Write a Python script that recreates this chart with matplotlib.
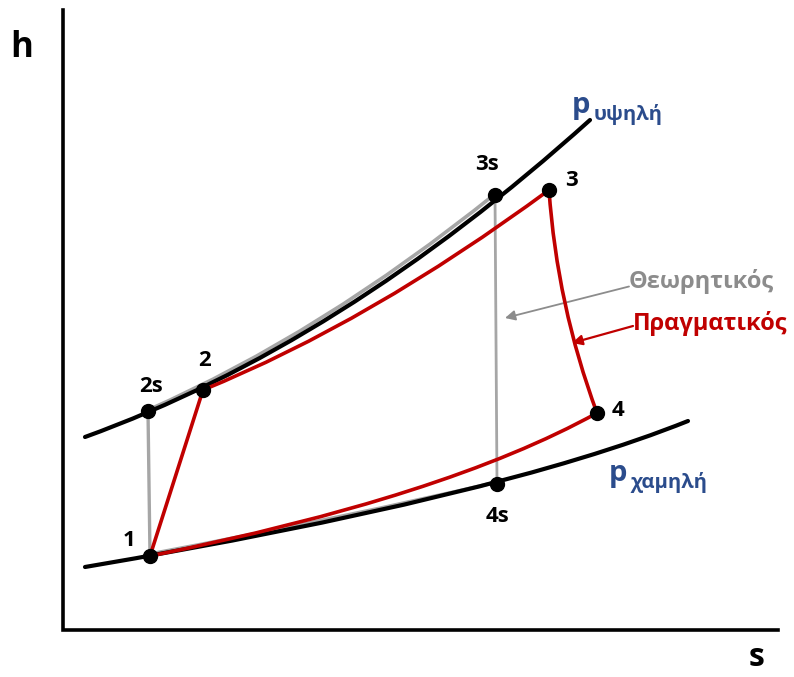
import numpy as np
import matplotlib
matplotlib.use("Agg")
import matplotlib.pyplot as plt
from matplotlib.path import Path
from matplotlib.patches import PathPatch

plt.rcParams['font.family'] = ['Open Sans', 'DejaVu Sans']

# state points (canvas coords, y down)
point_names = ["1", "2s", "2", "3s", "3", "4", "4s"]
point_x = [150, 148, 203, 495, 549, 597, 497]
point_y = [556, 411, 390, 195, 190, 413, 484]
label_x = [129, 151, 205, 487, 571, 618, 497]
label_y = [541, 387, 360, 165, 180, 410, 516]

# isobars as quadratic curves: start, control, end
p_high = [(85, 437), (340, 345), (590, 120)]
p_low = [(85, 567), (499, 497), (688, 421)]

# theoretical cycle paths along isobars
theo_high = [(148, 410), (321, 334), (495, 194)]
theo_low = [(497, 482), (353, 516), (150, 554)]

# real cycle
real_12 = [(150, 556), (180, 462), (203, 390)]
real_23 = [(203, 390), (370, 322), (549, 190)]
real_34 = [(549, 190), (557, 305), (597, 413)]
real_41 = [(597, 413), (445, 497), (150, 556)]

RED = "#C00000"
GRAY = "#A6A6A6"
BLUE = "#2B4C8C"


def curve(ax, pts, color, lw, z):
    path = Path(pts, [Path.MOVETO, Path.CURVE3, Path.CURVE3])
    ax.add_patch(PathPatch(path, fc="none", ec=color, lw=lw, zorder=z,
                           capstyle="round"))


fig = plt.figure(figsize=(7.94, 6.77), dpi=100)
ax = fig.add_axes([0, 0, 1, 1])
ax.set_xlim(0, 794)
ax.set_ylim(677, 0)
ax.axis("off")

# axes
ax.plot([63, 63, 778], [10, 630, 630], color="black", lw=2.6,
         solid_joinstyle="miter")
ax.text(22, 48, "h", fontsize=25, fontweight="bold", ha="center", va="center")
ax.text(757, 666, "s", fontsize=23, fontweight="bold", ha="center", va="baseline")

# isobars
curve(ax, p_high, "black", 3.0, 3)
curve(ax, p_low, "black", 3.0, 3)

# theoretical
curve(ax, theo_high, GRAY, 2.6, 2)
curve(ax, theo_low, GRAY, 2.6, 2)
ax.plot([point_x[0], point_x[1]], [point_y[0], point_y[1]], color=GRAY, lw=2.4, zorder=2)
ax.plot([point_x[3], point_x[6]], [point_y[3], point_y[6]], color=GRAY, lw=2.0, zorder=2)

# real
for seg in [real_12, real_23, real_34, real_41]:
    curve(ax, seg, RED, 2.6, 4)

ax.plot(point_x, point_y, "o", color="black", ms=10, zorder=5)
for name, lx, ly in zip(point_names, label_x, label_y):
    ax.text(lx, ly, name, fontsize=16, fontweight="bold", ha="center", va="center")

# pressure labels
ax.text(572, 113, "p", fontsize=21, fontweight="bold", color=BLUE, va="baseline")
ax.text(594, 120, "υψηλή", fontsize=14.5, fontweight="bold", color=BLUE, va="baseline")
ax.text(609, 481, "p", fontsize=21, fontweight="bold", color=BLUE, va="baseline")
ax.text(631, 488, "χαμηλή", fontsize=14.5, fontweight="bold", color=BLUE, va="baseline")

# cycle annotations
ax.annotate("Θεωρητικός", xy=(505, 318), xytext=(629, 288), fontsize=17,
            fontweight="bold", color="#8C8C8C", va="baseline",
            arrowprops=dict(arrowstyle="-|>", color="#8C8C8C", lw=1.3,
                            mutation_scale=15, shrinkA=0, shrinkB=0,
                            patchA=None, relpos=(0, 0.3)))
ax.annotate("Πραγματικός", xy=(572, 343), xytext=(633, 330), fontsize=17,
            fontweight="bold", color=RED, va="baseline",
            arrowprops=dict(arrowstyle="-|>", color=RED, lw=1.6,
                            mutation_scale=15, shrinkA=0, shrinkB=0,
                            patchA=None, relpos=(0, 0.4)))

fig.savefig("out.png", dpi=100)
